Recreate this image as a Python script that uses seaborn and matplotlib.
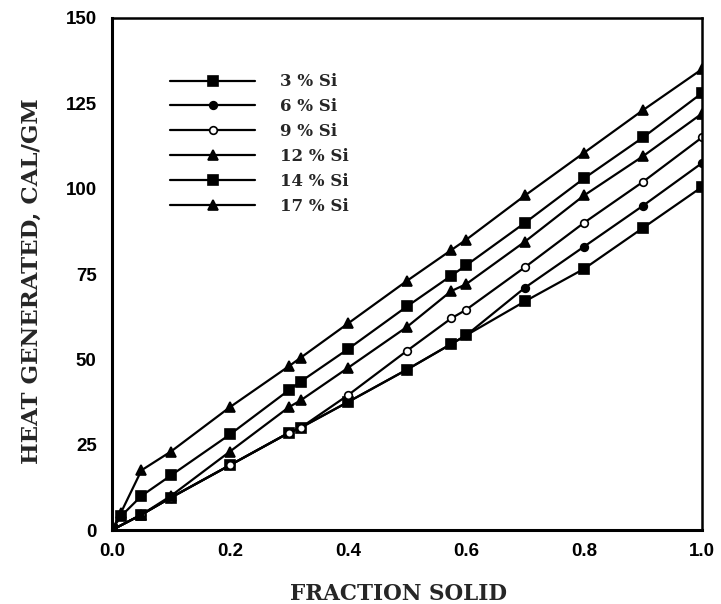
import matplotlib
matplotlib.use("Agg")
import matplotlib.pyplot as plt
from matplotlib.ticker import MultipleLocator
from matplotlib.lines import Line2D
import seaborn as sns
import pandas as pd

# Heat generated vs. fraction solid for Al-Si alloys
alloys = ["3 % Si", "6 % Si", "9 % Si", "12 % Si", "14 % Si", "17 % Si"]

fs_low = [0, 0.05, 0.1, 0.2, 0.3, 0.32, 0.4, 0.5, 0.575, 0.6, 0.7, 0.8, 0.9, 1.0]
fs_high = [0, 0.015, 0.05, 0.1, 0.2, 0.3, 0.32, 0.4, 0.5, 0.575, 0.6, 0.7, 0.8, 0.9, 1.0]

heat_3 = [0, 4.5, 9.5, 19, 28.5, 30, 37.5, 47, 54.5, 57, 67, 76.5, 88.5, 100.5]
heat_6 = [0, 4.5, 9.5, 19, 28.5, 30, 37.5, 47, 54.5, 57, 71, 83, 95, 107.5]
heat_9 = [0, 4.5, 9.5, 19, 28.5, 30, 39.5, 52.5, 62, 64.5, 77, 90, 102, 115]
heat_12 = [0, 4.5, 10, 23, 36, 38, 47.5, 59.5, 70, 72, 84.5, 98, 109.5, 122]
heat_14 = [0, 4, 10, 16, 28, 41, 43.5, 53, 65.5, 74.5, 77.5, 90, 103, 115, 128]
heat_17 = [0, 5, 17.5, 23, 36, 48, 50.5, 60.5, 73, 82, 85, 98, 110.5, 123, 135]

x_ticks = [0.0, 0.2, 0.4, 0.6, 0.8, 1.0]
y_ticks = [0, 25, 50, 75, 100, 125, 150]

series = [
    (alloys[0], fs_low, heat_3, "s", 7.0, "black"),
    (alloys[1], fs_low, heat_6, "o", 5.5, "black"),
    (alloys[2], fs_low, heat_9, "o", 5.5, "white"),
    (alloys[3], fs_low, heat_12, "^", 7.5, "black"),
    (alloys[4], fs_high, heat_14, "s", 7.0, "black"),
    (alloys[5], fs_high, heat_17, "^", 7.5, "black"),
]

sns.set_style("white")
plt.rcParams["font.family"] = ["DejaVu Sans"]

fig = plt.figure(figsize=(7.21, 6.04), dpi=100)
ax = fig.add_axes([0.1553, 0.1225, 0.8183, 0.8477])

handles = []
for name, xs, ys, mk, ms, fc in series:
    df = pd.DataFrame({"fraction_solid": xs, "heat": ys})
    sns.lineplot(data=df, x="fraction_solid", y="heat", ax=ax, color="black",
                 lw=1.6, marker=mk, ms=ms, mfc=fc, mec="black", mew=1.2,
                 sort=False, estimator=None)
    handles.append(Line2D([], [], color="black", lw=1.6, marker=mk, ms=ms,
                          mfc=fc, mec="black", mew=1.2, label=name))

ax.set_xlim(0, 1.0)
ax.set_ylim(0, 150)
ax.set_xticks(x_ticks)
ax.set_xticklabels([f"{v:.1f}" for v in x_ticks])
ax.set_yticks(y_ticks)
ax.set_yticklabels([str(v) for v in y_ticks])
ax.xaxis.set_minor_locator(MultipleLocator(0.2 / 3))
ax.yaxis.set_minor_locator(MultipleLocator(12.5))

for lab in ax.get_xticklabels() + ax.get_yticklabels():
    lab.set_fontfamily("Liberation Sans")
    lab.set_fontweight("bold")
    lab.set_fontsize(13.5)

ax.tick_params(which="major", direction="in", length=7, width=1.5,
               top=False, right=False, colors="black")
ax.tick_params(axis="x", which="major", pad=9)
ax.tick_params(axis="y", which="major", pad=11)
ax.tick_params(which="minor", direction="in", length=5, width=1.3,
               top=False, right=False)

for side, lw in [("left", 2.2), ("bottom", 2.2), ("top", 1.8), ("right", 1.8)]:
    ax.spines[side].set_color("black")
    ax.spines[side].set_linewidth(lw)

ax.set_xlabel("FRACTION SOLID", family="DejaVu Serif", weight="bold", size=15.5)
ax.set_ylabel("HEAT GENERATED, CAL/GM", family="DejaVu Serif", weight="bold", size=16.5)
ax.xaxis.set_label_coords(0.485, -0.103)
ax.yaxis.set_label_coords(-0.117, 0.486)

leg = ax.legend(handles=handles, loc="upper left", bbox_to_anchor=(0.073, 0.921),
                frameon=False, handlelength=5.1, handletextpad=1.5,
                labelspacing=0.47, numpoints=1,
                prop=dict(family="DejaVu Serif", weight="bold", size=12))

fig.savefig("out.png", dpi=100, facecolor="white")
